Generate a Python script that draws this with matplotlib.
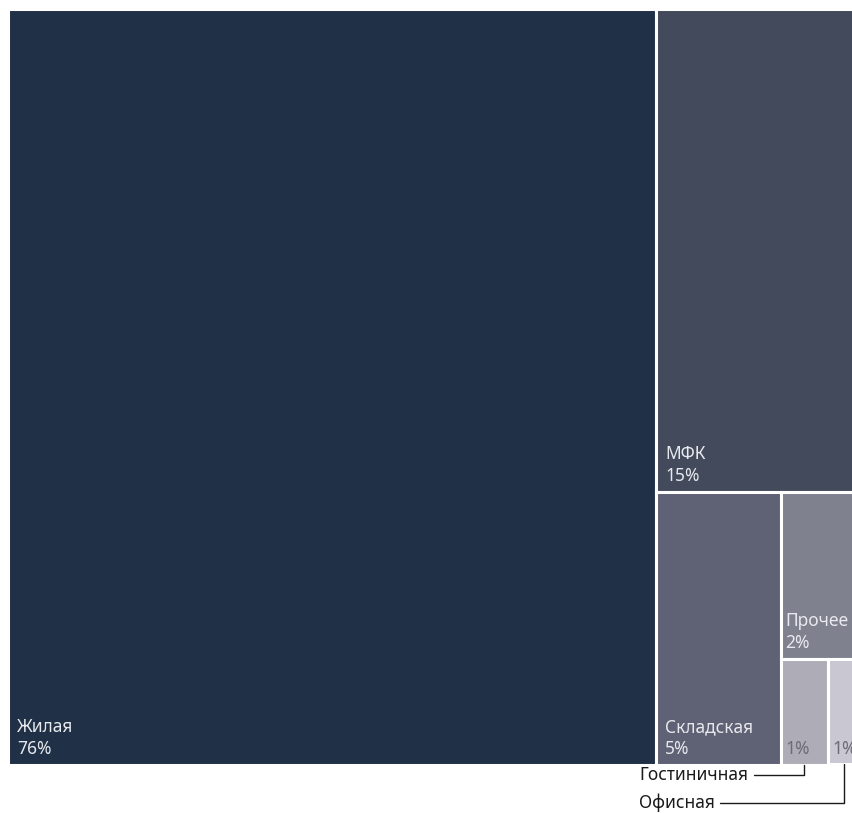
import matplotlib.pyplot as plt
from matplotlib.patches import Rectangle

plt.rcParams['font.family'] = ['Noto Sans', 'DejaVu Sans']

# share of total, %
categories = ['Жилая', 'МФК', 'Складская', 'Прочее', 'Гостиничная', 'Офисная']
shares = [76.1, 15.3, 5.3, 2.05, 0.78, 0.52]
pct_labels = ['76%', '15%', '5%', '2%', '1%', '1%']
colors = ['#203046', '#434a5b', '#5f6174', '#80818f', '#aeadb7', '#c9c8d2']
text_colors = ['#e8e9ee', '#e8e9ee', '#e8e9ee', '#e8e9ee', '#6c6b76', '#6c6b76']
name_inside = [True, True, True, True, False, False]


def slice_layout(values, x, y, w, h):
    """alternate vertical / horizontal slices, like the source treemap"""
    rects = []
    remaining = sum(values)
    vertical = True
    for v in values:
        frac = v / remaining
        if vertical:
            cw = w * frac
            rects.append((x, y, cw, h))
            x += cw
            w -= cw
        else:
            ch = h * frac
            rects.append((x, y + h - ch, w, ch))
            h -= ch
        remaining -= v
        vertical = not vertical
    return rects


W, H = 852, 813
fig = plt.figure(figsize=(W / 100, H / 100), dpi=100)
ax = fig.add_axes([7.5 / W, (H - 764.5) / H, 852 / W, 755 / H])
ax.set_xlim(0, 1)
ax.set_ylim(0, 1)
ax.axis('off')

rects = slice_layout(shares, 0, 0, 1, 1)

for i, (x, y, w, h) in enumerate(rects):
    ax.add_patch(Rectangle((x, y), w, h, facecolor=colors[i],
                           edgecolor='white', linewidth=2.2))
    label = pct_labels[i]
    if name_inside[i]:
        label = categories[i] + '\n' + label
    # narrow tiles get less padding so the label still fits
    pad = 7 if w > 0.12 else 3.5
    ax.annotate(label, xy=(x, y), xytext=(pad, 5), textcoords='offset points',
                ha='left', va='bottom', fontsize=12.5, color=text_colors[i],
                linespacing=1.25, annotation_clip=False)

# outside labels for the two smallest tiles
text_y = [38, 10]
k = 0
for i, (x, y, w, h) in enumerate(rects):
    if name_inside[i]:
        continue
    ax.annotate(categories[i], xy=(x + w / 2, y), xycoords='data',
                xytext=(639, text_y[k]), textcoords='figure pixels',
                ha='left', va='center', fontsize=12.5, color='#1a1a1a',
                annotation_clip=False,
                arrowprops=dict(arrowstyle='-', color='#1a1a1a', lw=1,
                                shrinkA=2, shrinkB=0,
                                connectionstyle='angle,angleA=0,angleB=90,rad=0'))
    k += 1

fig.savefig('out.png', dpi=100)
